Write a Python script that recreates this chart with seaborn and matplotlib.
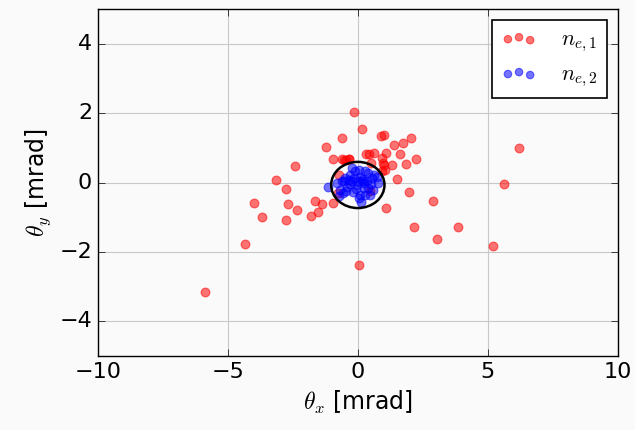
import numpy as np
import pandas as pd
import matplotlib
matplotlib.use("Agg")
import matplotlib.pyplot as plt
from matplotlib.patches import Ellipse
import seaborn as sns

# angular positions (mrad)
theta_x_1 = [-0.13, 0.15, -0.61, 0.89, 1.01, 2.05, 1.72, 1.38, -1.22, 6.20,
             -0.94, -0.54, -0.33, 0.30, 0.44, 0.63, 1.10, 1.63, 2.22, 0.94,
             0.97, 1.32, 1.85, -2.41, 0.50, 0.94, 1.51, -3.13, 5.63, -2.78,
             1.98, -3.99, -2.67, -1.65, -1.36, -0.97, 2.91, 1.10, -3.69, -2.33,
             -2.76, -1.80, -1.53, 2.16, 3.84, 3.03, -4.34, 5.21, 0.04, -5.87,
             -0.73, -0.75, 0.48, -0.60, -0.35, 1.00, 1.06, -0.45]
theta_y_1 = [2.02, 1.55, 1.29, 1.34, 1.36, 1.29, 1.15, 1.07, 1.03, 0.99,
             0.68, 0.64, 0.68, 0.81, 0.83, 0.86, 0.84, 0.82, 0.68, 0.71,
             0.56, 0.50, 0.54, 0.47, 0.56, 0.32, 0.10, 0.08, -0.05, -0.18,
             -0.26, -0.59, -0.63, -0.52, -0.61, -0.59, -0.54, -0.72, -0.98, -0.80,
             -1.08, -0.95, -0.86, -1.28, -1.28, -1.62, -1.76, -1.82, -2.39, -3.15,
             0.22, -0.31, -0.23, 0.67, 0.67, 0.50, 0.36, 0.66]

theta_x_2 = [-1.15, -0.81, -0.68, -0.74, -0.49, -0.42, -0.29, -0.23, -0.10, 0.03,
             0.09, -0.04, -0.17, 0.09, 0.12, 0.28, 0.35, 0.41, 0.54, 0.60,
             0.73, 0.79, 0.22, 0.03, 0.28, -0.46, -0.62, -0.13, 0.41, 0.47,
             -0.23, 0.63, -0.55, 0.15, -0.35, 0.00, 0.18, -0.08, 0.50, -0.30,
             0.25, -0.58]
theta_y_2 = [-0.12, -0.02, -0.21, -0.40, 0.13, -0.12, 0.22, 0.03, 0.32, 0.37,
             0.17, -0.07, -0.26, -0.36, -0.55, 0.32, 0.03, -0.16, 0.13, -0.21,
             0.17, -0.02, -0.16, -0.45, -0.36, -0.23, 0.03, 0.13, 0.27, -0.36,
             0.41, 0.22, 0.05, 0.05, 0.08, 0.05, 0.10, -0.18, -0.05, -0.05,
             -0.02, -0.30]

# ellipse around the n_e,2 cloud
ell_center = (0.0, -0.07)
ell_width = 2.05
ell_height = 1.33

df1 = pd.DataFrame({"tx": theta_x_1, "ty": theta_y_1})
df2 = pd.DataFrame({"tx": theta_x_2, "ty": theta_y_2})

plt.style.use("classic")
plt.rcParams["mathtext.fontset"] = "cm"
plt.rcParams["font.family"] = ["DejaVu Sans"]

fig = plt.figure(figsize=(6.35, 4.30), dpi=100, facecolor="#fafafa")
ax = fig.add_axes([0.154, 0.172, 0.819, 0.807])
ax.set_facecolor("#fafafa")

sns.scatterplot(data=df1, x="tx", y="ty", color="red", alpha=0.55, s=40,
                edgecolor="red", linewidth=0.8, label=r"$n_{e,1}$", ax=ax)
sns.scatterplot(data=df2, x="tx", y="ty", color="blue", alpha=0.55, s=40,
                edgecolor="blue", linewidth=0.8, label=r"$n_{e,2}$", ax=ax)

ax.add_patch(Ellipse(ell_center, ell_width, ell_height, fill=False,
                     edgecolor="black", linewidth=1.8, zorder=5))

ax.set_xlim(-10, 10)
ax.set_ylim(-5, 5)
ax.set_xticks([-10, -5, 0, 5, 10])
ax.set_yticks([-4, -2, 0, 2, 4])
ax.grid(True, color="#c8c8c8", linestyle="-", linewidth=0.8)
ax.set_axisbelow(True)
ax.tick_params(labelsize=16, direction="in", length=5, top=True, right=True)
ax.set_xlabel(r"$\theta_x$ [mrad]", fontsize=17)
ax.set_ylabel(r"$\theta_y$ [mrad]", fontsize=17)

leg = ax.legend(loc="upper right", scatterpoints=3, fontsize=16,
                frameon=True, fancybox=False, markerscale=0.85,
                handlelength=1.6, handletextpad=1.1, borderpad=0.4,
                labelspacing=0.45)
leg.get_frame().set_edgecolor("black")
leg.get_frame().set_linewidth(1.2)
leg.get_frame().set_facecolor("white")

fig.savefig("out.png", dpi=100, facecolor=fig.get_facecolor())
